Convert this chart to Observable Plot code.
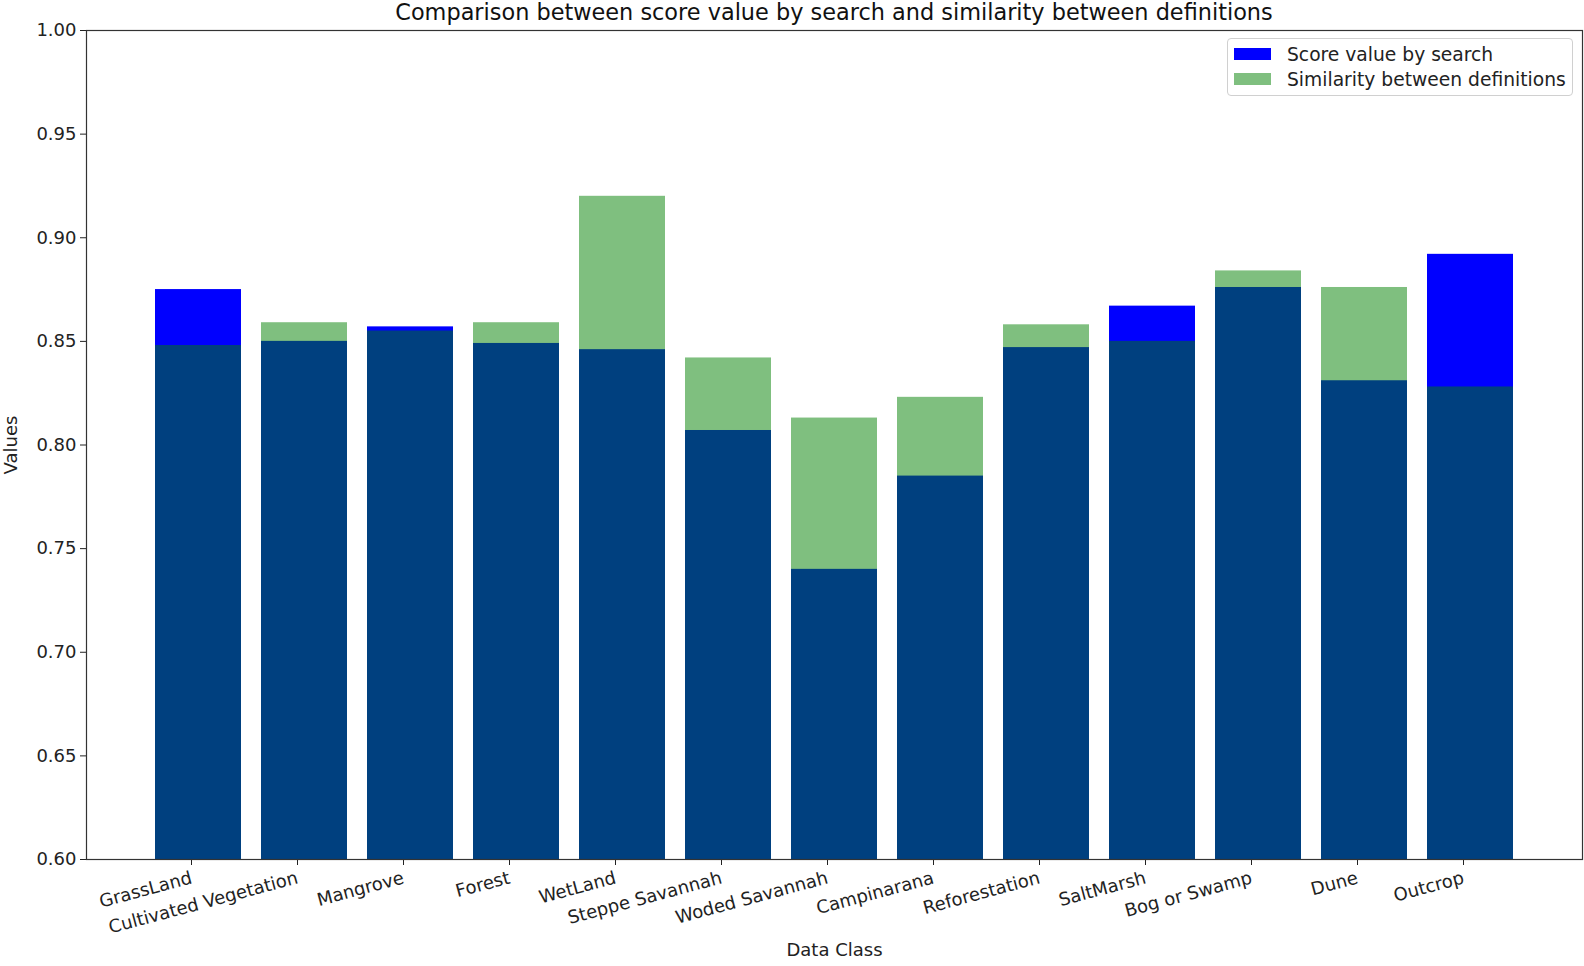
<!DOCTYPE html>
<html>
<head>
<meta charset="utf-8">
<script src="https://cdn.jsdelivr.net/npm/d3@7"></script>
<script src="https://cdn.jsdelivr.net/npm/@observablehq/plot@0.6"></script>
<style>
  body { margin: 0; background: #fff; font-family: "DejaVu Sans", sans-serif; }
  #wrap { position: relative; width: 1584px; height: 966px; }
  #title { position: absolute; left: 86px; width: 1496px; top: 0; height: 24px; line-height: 24px; font-size: 22.4px; color: #111; text-align: center; white-space: nowrap; }
  #legend { position: absolute; left: 1227px; top: 38px; width: 344px; height: 56px; border: 1px solid #d0d0d0; border-radius: 4px; background: rgba(255,255,255,0.8); font-size: 18.7px; color: #222; }
  .row { position: absolute; left: 6px; height: 20px; display: flex; align-items: center; }
  .sw { width: 37px; height: 12px; margin-right: 16px; }
</style>
</head>
<body>
<div id="wrap">
  <div id="chart"></div>
  <div id="title">Comparison between score value by search and similarity between definitions</div>
  <div id="legend"></div>
</div>
<script>
const categories = ["GrassLand","Cultivated Vegetation","Mangrove","Forest","WetLand","Steppe Savannah","Woded Savannah","Campinarana","Reforestation","SaltMarsh","Bog or Swamp","Dune","Outcrop"];
const scoreValues = [0.875,0.850,0.857,0.849,0.846,0.807,0.740,0.785,0.847,0.867,0.876,0.831,0.892];
const similarityValues = [0.848,0.859,0.855,0.859,0.920,0.842,0.813,0.823,0.858,0.850,0.884,0.876,0.828];
const yTicks = [0.60,0.65,0.70,0.75,0.80,0.85,0.90,0.95,1.00];
const seriesNames = ["Score value by search","Similarity between definitions"];
const seriesColors = ["#0000ff","#008000"];
const seriesOpacity = [1, 0.5];
const xLabel = "Data Class";
const yLabel = "Values";

const scoreData = categories.map((c, i) => ({cls: c, v: scoreValues[i]}));
const simData = categories.map((c, i) => ({cls: c, v: similarityValues[i]}));

const chart = Plot.plot({
  width: 1584,
  height: 966,
  marginTop: 30,
  marginLeft: 86,
  marginRight: 2,
  marginBottom: 107,
  style: {fontFamily: "DejaVu Sans, sans-serif", fontSize: "18px", color: "#222", background: "#fff"},
  x: {domain: categories, padding: 0.19, paddingOuter: 0.63, label: null},
  y: {domain: [0.6, 1.0], label: null},
  marks: [
    Plot.barY(scoreData, {x: "cls", y: "v", fill: seriesColors[0], fillOpacity: seriesOpacity[0], clip: true}),
    Plot.barY(simData, {x: "cls", y: "v", fill: seriesColors[1], fillOpacity: seriesOpacity[1], clip: true}),
    Plot.axisY({ticks: yTicks, tickFormat: d3.format(".2f"), tickSize: 6, tickPadding: 4, label: null, fontSize: 18}),
    Plot.axisX({tickSize: 6, tickRotate: -15, tickPadding: 12, dx: -7, label: null, fontSize: 18}),
    Plot.text([yLabel], {frameAnchor: "left", text: d => d, rotate: -90, textAnchor: "middle", lineAnchor: "middle", dx: -75, fontSize: 18, fill: "#222"}),
    Plot.text([xLabel], {frameAnchor: "bottom", text: d => d, textAnchor: "middle", lineAnchor: "middle", dy: 91, fontSize: 18, fill: "#222"}),
    Plot.frame({stroke: "#333", strokeWidth: 1.2})
  ]
});
document.getElementById("chart").appendChild(chart);

const legend = document.getElementById("legend");
seriesNames.forEach((name, i) => {
  const row = document.createElement("div");
  row.className = "row";
  row.style.top = (i === 0 ? 5 : 30) + "px";
  const sw = document.createElement("div");
  sw.className = "sw";
  sw.style.background = seriesColors[i];
  sw.style.opacity = seriesOpacity[i];
  row.appendChild(sw);
  const t = document.createElement("span");
  t.textContent = name;
  row.appendChild(t);
  legend.appendChild(row);
});
</script>
</body>
</html>
